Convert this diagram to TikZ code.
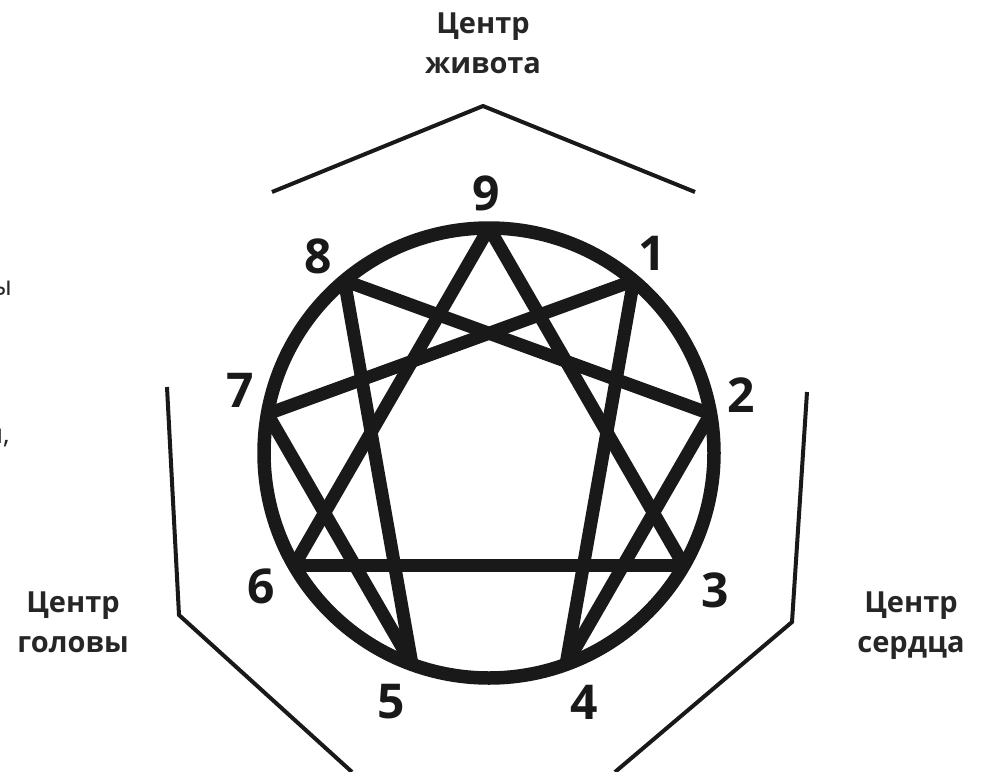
\documentclass[tikz,border=0pt]{standalone}
\usepackage{fontspec}
\setmainfont{Open Sans}
\begin{document}
\begin{tikzpicture}[x=1pt,y=-1pt,
  ring/.style={line width=13.5pt,draw=black!90},
  chord/.style={line width=13pt,draw=black!90,line cap=butt},
  bracket/.style={line width=4pt,draw=black!90,line join=miter},
  digit/.style={font=\fontsize{48}{48}\selectfont\bfseries,inner sep=0pt,text=black!90},
  label/.style={font=\fontsize{29}{40}\selectfont\bfseries,align=center,inner sep=0pt,text=black!85},
  stray/.style={font=\fontsize{27}{27}\selectfont,inner sep=0pt,text=black!85}]
\useasboundingbox (0,0) rectangle (984,771);
\clip (0,0) rectangle (984,771);
\fill[white] (0,0) rectangle (984,771);
\coordinate (c) at (489,453);
\foreach \n/\a in {9/90,1/50,2/10,3/-30,4/-70,5/-110,6/-150,7/170,8/130}{
  \coordinate (p\n) at ({489+225*cos(\a)},{453-225*sin(\a)});
}
% chords
\begin{scope}
  \clip (c) circle [radius=231pt];
  \draw[chord] (p9) -- (p3);
  \draw[chord] (p3) -- (p6);
  \draw[chord] (p6) -- (p9);
  \draw[chord] (p1) -- (p4);
  \draw[chord] (p4) -- (p2);
  \draw[chord] (p2) -- (p8);
  \draw[chord] (p8) -- (p5);
  \draw[chord] (p5) -- (p7);
  \draw[chord] (p7) -- (p1);
\end{scope}
\draw[ring] (c) circle [radius=225pt];
% digits
\node[digit] (n9) at (486,193) {9};
\node[digit] (n1) at (652,253) {1};
\node[digit] (n2) at (741,395) {2};
\node[digit] (n3) at (715,590) {3};
\node[digit] (n4) at (584,702) {4};
\node[digit] (n5) at (391,702) {5};
\node[digit] (n6) at (261,586) {6};
\node[digit] (n7) at (240,390) {7};
\node[digit] (n8) at (318,256) {8};
% brackets
\coordinate (t1) at (272,192); \coordinate (t2) at (483,106); \coordinate (t3) at (695,192);
\draw[bracket] (t1) -- (t2) -- (t3);
\coordinate (l1) at (167,387); \coordinate (l2) at (179,615); \coordinate (l3) at (352,772);
\draw[bracket] (l1) -- (l2) -- (l3);
\coordinate (r1) at (807,392); \coordinate (r2) at (792,622); \coordinate (r3) at (615,772);
\draw[bracket] (r1) -- (r2) -- (r3);
% labels (base anchor = baseline of last line)
\node[label,anchor=base] (gut) at (483,73) {Центр\\живота};
\node[label,anchor=base] (head) at (73,652) {Центр\\головы};
\node[label,anchor=base] (heart) at (911,652) {Центр\\сердца};
% stray fragments at left edge
\node[stray,anchor=base east] (s1) at (12,295) {ы};
\node[stray,anchor=base east] (s2) at (10,443) {и,};
\end{tikzpicture}
\end{document}
